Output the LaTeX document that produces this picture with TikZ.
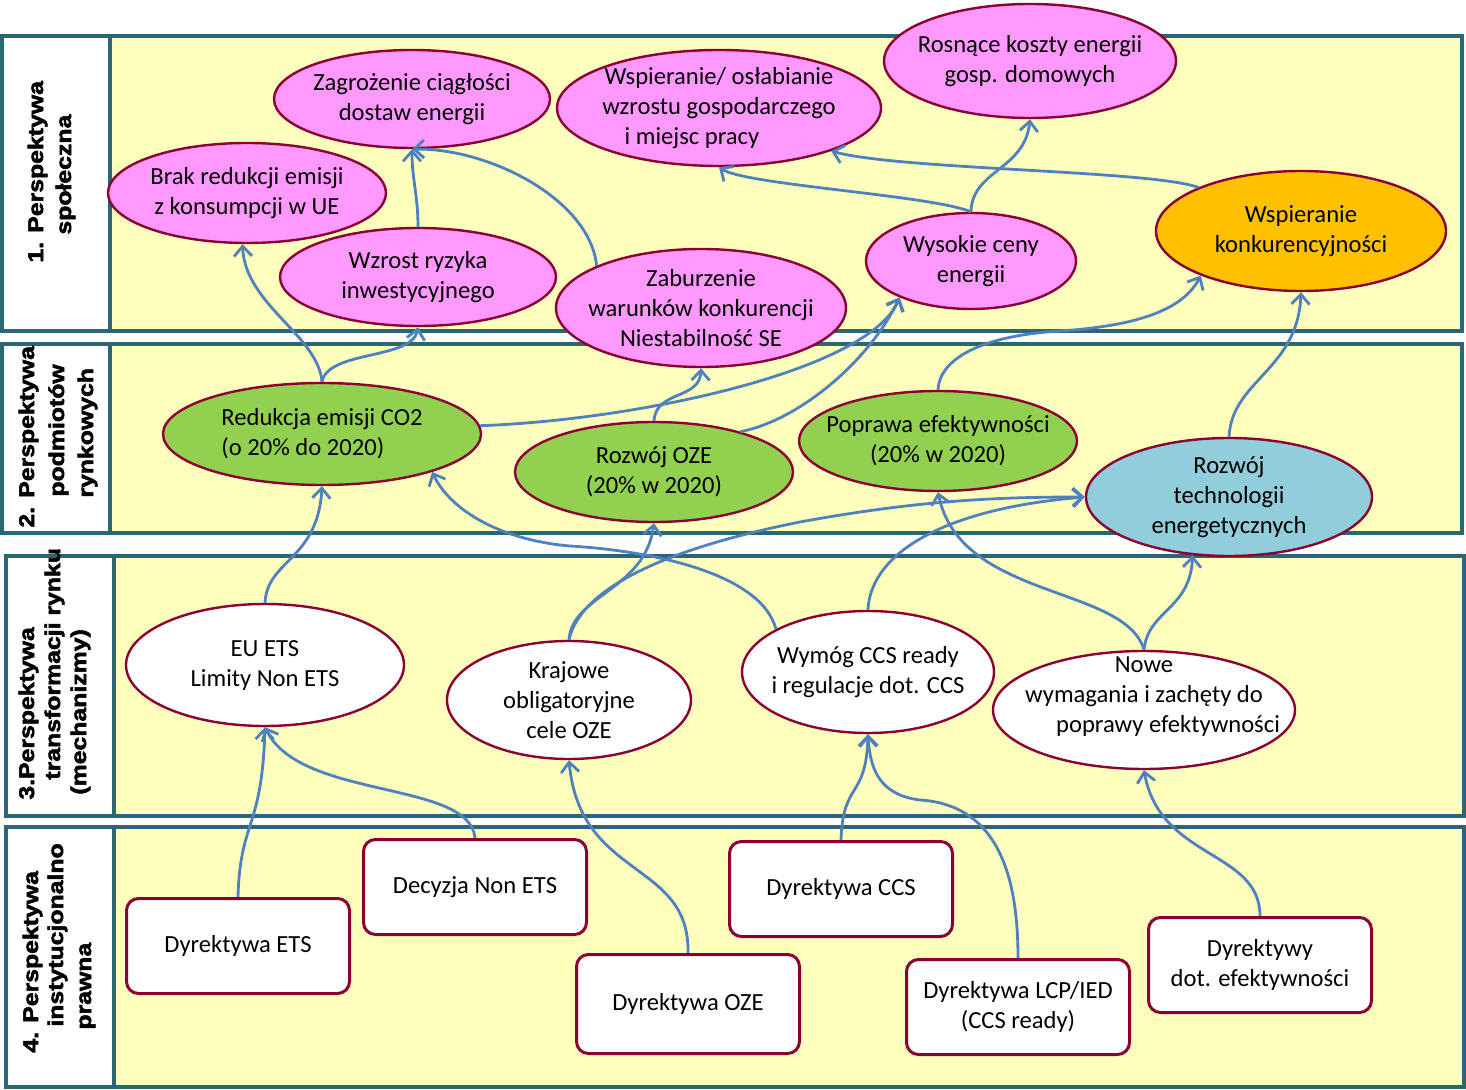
\documentclass[tikz,border=0pt]{standalone}
\usepackage{fontspec}
\setmainfont{Carlito}
\newfontfamily\lblfont{Liberation Sans Bold}[FakeStretch=1.17,FakeBold=2.5]
\usetikzlibrary{shapes.geometric,arrows.meta}
\definecolor{bandc}{RGB}{42,102,116}
\definecolor{yelbg}{RGB}{255,255,190}
\definecolor{pinkc}{RGB}{255,153,255}
\definecolor{ebord}{RGB}{139,0,51}
\definecolor{ablue}{RGB}{79,129,189}
\definecolor{greenc}{RGB}{146,208,80}
\definecolor{orangec}{RGB}{255,192,0}
\definecolor{bluec}{RGB}{146,205,220}
\begin{document}
\begin{tikzpicture}[x=0.5pt,y=-0.5pt,
  font=\fontsize{12.3}{15}\selectfont,
  band/.style={draw=bandc,line width=2pt},
  ell/.style={ellipse,draw=ebord,line width=1.2pt,inner sep=-40pt,align=center},
  box/.style={rectangle,rounded corners=6pt,draw=ebord,line width=1.5pt,fill=white,
    minimum width=111.5pt,minimum height=47.5pt,align=center},
  lbl/.style={rotate=90,anchor=base west,inner sep=0pt,
    font=\lblfont\fontsize{10.6}{12}\selectfont},
  arr/.style={draw=ablue,line width=1.4pt,-{Straight Barb[length=5pt,width=9pt]}}]
\fill[white] (0,0) rectangle (1466,1090);
\useasboundingbox (0,0) rectangle (1466,1090);
% bands
\draw[band,fill=white] (2,36) rectangle (110,331);
\draw[band,fill=yelbg] (110,36) rectangle (1462,331);
\draw[band,fill=white] (2,344) rectangle (110,533);
\draw[band,fill=yelbg] (110,344) rectangle (1462,533);
\draw[band,fill=white] (6,556) rectangle (114,816);
\draw[band,fill=yelbg] (114,556) rectangle (1464,816);
\draw[band,fill=white] (6,827) rectangle (114,1087);
\draw[band,fill=yelbg] (114,827) rectangle (1464,1087);
% band labels
\node[lbl] (l1a) at (43,263) {1. Perspektywa};
\node[lbl] (l1b) at (71,235) {społeczna};
\node[lbl] (l2a) at (34,528) {2. Perspektywa};
\node[lbl] (l2b) at (64,497) {podmiotów};
\node[lbl] (l2c) at (93,498) {rynkowych};
\node[lbl] (l3a) at (34,800) {3.Perspektywa};
\node[lbl] (l3b) at (60,780) {transformacji rynku};
\node[lbl] (l3c) at (86,795) {(mechanizmy)};
\node[lbl] (l4a) at (38,1053) {4. Perspektywa};
\node[lbl] (l4b) at (63,1027) {instytucjonalno};
\node[lbl] (l4c) at (91,1030) {prawna};
% band 1
\node[ell,fill=pinkc,minimum width=146pt,minimum height=57pt] (rosn) at (1030,61) {Rosnące koszty energii\\gosp. domowych};
\node[ell,fill=pinkc,minimum width=138pt,minimum height=49pt] (zagr) at (412,99) {Zagrożenie ciągłości\\dostaw energii};
\node[ell,fill=pinkc,minimum width=162pt,minimum height=58pt] (wspo) at (719,108) {Wspieranie/ osłabianie\\wzrostu gospodarczego\\i miejsc pracy\hspace*{27pt}};
\node[ell,fill=pinkc,minimum width=139pt,minimum height=50pt] (brak) at (247,193) {Brak redukcji emisji\\z konsumpcji w UE};
\node[ell,fill=pinkc,minimum width=138pt,minimum height=49pt] (wzro) at (418,277) {Wzrost ryzyka\\inwestycyjnego};
\node[ell,fill=pinkc,minimum width=145pt,minimum height=59pt] (zabu) at (701,308) {Zaburzenie\\warunków konkurencji\\Niestabilność SE};
\node[ell,fill=pinkc,minimum width=105pt,minimum height=48pt] (wyso) at (971,261) {Wysokie ceny\\energii};
\node[ell,fill=orangec,minimum width=145pt,minimum height=60pt] (wkon) at (1301,231) {Wspieranie\\konkurencyjności};
% band 2
\node[ell,fill=greenc,minimum width=159pt,minimum height=51pt,align=left] (redu) at (322,434) {Redukcja emisji CO2\\(o 20\% do 2020)};
\node[ell,fill=greenc,minimum width=139pt,minimum height=50pt] (roze) at (654,472) {Rozwój OZE\\(20\% w 2020)};
\node[ell,fill=greenc,minimum width=139pt,minimum height=50pt] (popr) at (938,441) {Poprawa efektywności\\(20\% w 2020)};
\node[ell,fill=bluec,minimum width=143pt,minimum height=59pt] (rtech) at (1229,497) {Rozwój\\technologii\\energetycznych};
% band 3
\node[ell,fill=white,minimum width=139pt,minimum height=61pt] (euets) at (265,665) {EU ETS\\Limity Non ETS};
\node[ell,fill=white,minimum width=122pt,minimum height=59pt] (kraj) at (569,700) {Krajowe\\obligatoryjne\\cele OZE};
\node[ell,fill=white,minimum width=126pt,minimum height=61pt] (wymog) at (868,672) {Wymóg CCS ready\\i regulacje dot. CCS};
\node[ell,fill=white,minimum width=151pt,minimum height=59pt] (nowe) at (1144,710) {Nowe\\wymagania i zachęty do\\\hspace*{24pt}poprawy efektywności\\~};
% band 4
\node[box] (dets) at (238,946) {Dyrektywa ETS};
\node[box] (dnon) at (475,887) {Decyzja Non ETS};
\node[box,minimum height=49.5pt] (doze) at (688,1004) {Dyrektywa OZE};
\node[box] (dccs) at (841,889) {Dyrektywa CCS};
\node[box] (dlcp) at (1018,1007) {Dyrektywa LCP/IED\\(CCS ready)};
\node[box] (deff) at (1260,965) {Dyrektywy\\dot. efektywności};
% connectors band 2 -> band 1
\draw[arr] (redu.north) .. controls (318,335) and (245,305) .. (brak.-95);
\draw[arr] (redu.north) .. controls (328,350) and (412,360) .. (wzro.south);
\draw[arr] (wzro.north) .. controls (418,195) and (412,180) .. (zagr.south);
\draw[arr] (zabu.158) .. controls (590,200) and (490,148) .. (zagr.south);
\draw[arr] (roze.north) .. controls (656,390) and (700,400) .. (zabu.south);
\draw[arr] (redu.3) .. controls (640,420) and (870,370) .. (wyso.-153);
\draw[arr] (roze.25) .. controls (800,420) and (870,360) .. (wyso.-153);
\draw[arr] (popr.north) .. controls (940,355) and (990,335) .. (1060,331) .. controls (1150,325) and (1185,305) .. (wkon.-156);
\draw[arr] (rtech.north) .. controls (1232,380) and (1298,370) .. (wkon.south);
\draw[arr] (wyso.north) .. controls (972,170) and (1025,170) .. (rosn.south);
\draw[arr] (wyso.north) .. controls (930,195) and (745,185) .. (wspo.south);
\draw[arr] (wkon.157) .. controls (1150,170) and (900,170) .. (wspo.-21);
% band 3 -> band 2
\draw[arr] (euets.north) .. controls (267,560) and (318,560) .. (redu.south);
\draw[arr] (wymog.155) .. controls (760,570) and (640,550) .. (570,546) .. controls (500,540) and (450,510) .. (redu.-19);
\draw[arr] (kraj.north) .. controls (572,595) and (645,590) .. (roze.south);
\draw[arr] (kraj.north) .. controls (580,590) and (660,550) .. (800,522) .. controls (920,500) and (1000,497) .. (rtech.west);
\draw[arr] (wymog.north) .. controls (870,560) and (930,510) .. (rtech.west);
\draw[arr] (nowe.north) .. controls (1125,585) and (960,600) .. (popr.south);
\draw[arr] (nowe.north) .. controls (1148,610) and (1190,610) .. (rtech.-122);
% band 4 -> band 3
\draw[arr] (dets.north) .. controls (240,820) and (262,830) .. (euets.south);
\draw[arr] (dnon.north) .. controls (470,780) and (300,800) .. (euets.south);
\draw[arr] (doze.north) .. controls (690,860) and (580,880) .. (kraj.south);
\draw[arr] (dccs.north) .. controls (843,780) and (866,800) .. (wymog.south);
\draw[arr] (dlcp.north) .. controls (1018,880) and (1000,805) .. (920,800) .. controls (880,795) and (870,770) .. (wymog.south);
\draw[arr] (deff.north) .. controls (1260,850) and (1160,860) .. (nowe.south);
\end{tikzpicture}
\end{document}
